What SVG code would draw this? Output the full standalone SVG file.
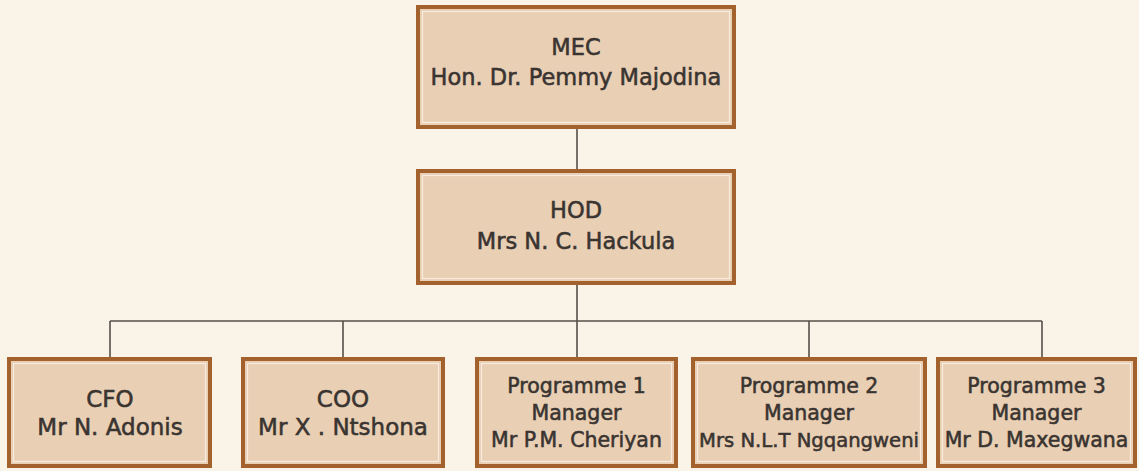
<svg xmlns="http://www.w3.org/2000/svg" width="1139" height="471" viewBox="0 0 1139 471">
<style>
.outer{fill:#e9cfb4;stroke:#a3622d;stroke-width:4}
.inner{fill:none;stroke:#f7ece0;stroke-width:1.2}
.t{font-family:"DejaVu Sans","Liberation Sans",sans-serif;fill:#3a3431;stroke:#3a3431;stroke-width:0.55;text-anchor:middle}
.big{font-size:22.5px}
.mid{font-size:23px}
.sm{font-size:20.5px}
.conn{stroke:#555049;stroke-width:1.6;fill:none}
</style>
<rect width="1139" height="471" fill="#faf3e7"/>
<g id="connectors">
<path class="conn" d="M577 129V169M577 285V321M110 321H1042M110 321V357M343 321V357M577 321V357M809 321V357M1042 321V357"/>
</g>
<g id="mec">
<rect class="outer" x="418" y="7" width="316" height="120"/>
<rect class="inner" x="422.5" y="11.5" width="307" height="111"/>
<text class="t big" x="576" y="55">MEC</text>
<text class="t big" x="576" y="85">Hon. Dr. Pemmy Majodina</text>
</g>
<g id="hod">
<rect class="outer" x="418" y="171" width="316" height="112"/>
<rect class="inner" x="422.5" y="175.5" width="307" height="103"/>
<text class="t big" x="576" y="218">HOD</text>
<text class="t big" x="576" y="249">Mrs N. C. Hackula</text>
</g>
<g id="cfo">
<rect class="outer" x="9" y="359" width="201" height="107"/>
<rect class="inner" x="13.5" y="363.5" width="192" height="98"/>
<text class="t mid" x="110" y="407">CFO</text>
<text class="t mid" x="110" y="435">Mr N. Adonis</text>
</g>
<g id="coo">
<rect class="outer" x="243" y="359" width="200" height="107"/>
<rect class="inner" x="247.5" y="363.5" width="191" height="98"/>
<text class="t mid" x="343" y="407">COO</text>
<text class="t mid" x="343" y="435">Mr X . Ntshona</text>
</g>
<g id="prog1">
<rect class="outer" x="477" y="359" width="199" height="107"/>
<rect class="inner" x="481.5" y="363.5" width="190" height="98"/>
<text class="t sm" x="576.5" y="393">Programme 1</text>
<text class="t sm" x="576.5" y="420">Manager</text>
<text class="t sm" x="576.5" y="447">Mr P.M. Cheriyan</text>
</g>
<g id="prog2">
<rect class="outer" x="693" y="359" width="232" height="107"/>
<rect class="inner" x="697.5" y="363.5" width="223" height="98"/>
<text class="t sm" x="809" y="393">Programme 2</text>
<text class="t sm" x="809" y="420">Manager</text>
<text class="t sm" x="809" y="447" style="font-size:20px" textLength="220" lengthAdjust="spacingAndGlyphs">Mrs N.L.T Ngqangweni</text>
</g>
<g id="prog3">
<rect class="outer" x="938" y="359" width="197" height="107"/>
<rect class="inner" x="942.5" y="363.5" width="188" height="98"/>
<text class="t sm" x="1036.5" y="393">Programme 3</text>
<text class="t sm" x="1036.5" y="420">Manager</text>
<text class="t sm" x="1036.5" y="447">Mr D. Maxegwana</text>
</g>
</svg>
